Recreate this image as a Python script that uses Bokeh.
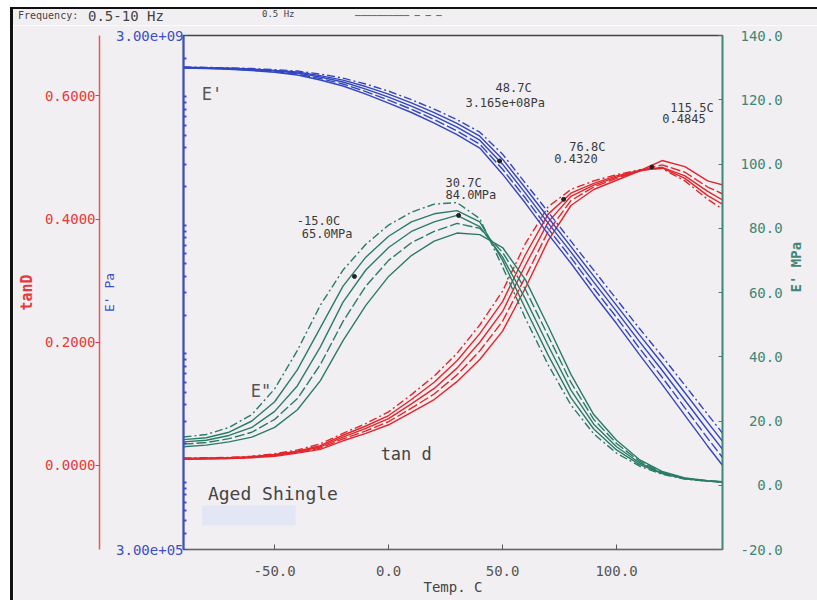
import math
from bokeh.plotting import figure
from bokeh.layouts import column
from bokeh.models import (Range1d, LinearAxis, LinearScale, FixedTicker, CustomJSTickFormatter,
                          Label, BoxAnnotation, Div)
from bokeh.embed import file_html
from bokeh.resources import INLINE

# ---------------- data ----------------
temp_c = [-90, -80, -70, -60, -50, -40, -30, -20, -10, 0, 10, 20, 30, 40,
          50, 60, 70, 80, 90, 100, 110, 120, 130, 140, 147]
freq_hz = [0.5, 1, 2, 5, 10]

# storage modulus E' (MPa), five frequency sweeps
estor_1 = [1707, 1692, 1683, 1660, 1627, 1587, 1503, 1398, 1257, 1107, 950, 803, 664, 531,
           358, 213, 127, 75.3, 44.8, 26.6, 15.8, 9.58, 5.69, 3.38, 2.35]
estor_2 = [1698, 1683, 1672, 1645, 1607, 1559, 1463, 1350, 1202, 1050, 897, 754, 621, 494,
           327, 195, 115, 68.2, 40.2, 23.8, 14.1, 8.45, 4.98, 2.93, 2.03]
estor_3 = [1690, 1675, 1660, 1630, 1587, 1531, 1425, 1303, 1149, 995, 847, 708, 581, 460,
           299, 178, 104, 61.8, 36.1, 21.4, 12.5, 7.45, 4.35, 2.54, 1.76]
estor_4 = [1682, 1667, 1648, 1615, 1567, 1504, 1388, 1258, 1098, 943, 800, 665, 543, 428,
           273, 163, 94.2, 56.0, 32.4, 19.2, 11.1, 6.57, 3.80, 2.20, 1.52]
estor_5 = [1673, 1658, 1637, 1601, 1548, 1477, 1351, 1214, 1050, 894, 755, 624, 508, 399,
           250, 149, 85.3, 50.7, 29.1, 17.2, 9.9, 5.79, 3.32, 1.91, 1.32]

# loss modulus E'' (MPa)
eloss_1 = [15.0, 15.8, 18.0, 22.0, 30.0, 42.0, 56.0, 67.0, 75.0, 81.0, 85.0, 87.5, 88.0, 83.0,
           68.0, 52.0, 37.5, 25.0, 16.0, 10.0, 6.0, 3.4, 1.9, 1.3, 1.0]
eloss_2 = [14.2, 14.8, 16.5, 20.0, 26.0, 36.0, 49.0, 62.0, 71.0, 77.5, 82.0, 84.5, 85.5, 82.0,
           70.0, 55.0, 40.5, 27.3, 17.5, 11.0, 6.5, 3.6, 2.0, 1.3, 1.0]
eloss_3 = [13.5, 14.0, 15.5, 18.0, 23.0, 31.0, 43.0, 57.0, 67.0, 74.0, 79.0, 82.0, 84.0, 80.5,
           71.0, 58.0, 43.5, 29.6, 19.0, 12.0, 7.0, 3.8, 2.1, 1.3, 1.0]
eloss_4 = [12.8, 13.3, 14.5, 16.5, 20.5, 27.0, 37.5, 51.0, 62.0, 70.0, 75.5, 79.0, 81.5, 80.0,
           72.5, 61.0, 46.5, 32.0, 20.5, 13.0, 7.5, 4.0, 2.2, 1.4, 1.0]
eloss_5 = [12.0, 12.5, 13.5, 15.0, 18.0, 23.5, 32.5, 45.0, 56.0, 65.0, 71.5, 76.0, 78.5, 78.0,
           74.0, 64.0, 49.5, 34.5, 22.0, 14.0, 8.0, 4.3, 2.3, 1.4, 1.1]

# tan delta
tand_1 = [0.012, 0.0125, 0.013, 0.015, 0.019, 0.025, 0.035, 0.052, 0.068, 0.087, 0.115, 0.145,
          0.182, 0.228, 0.283, 0.360, 0.420, 0.448, 0.462, 0.472, 0.480, 0.482, 0.462, 0.432, 0.415]
tand_2 = [0.0115, 0.012, 0.0125, 0.014, 0.018, 0.023, 0.032, 0.049, 0.064, 0.081, 0.107, 0.135,
          0.170, 0.214, 0.266, 0.342, 0.408, 0.442, 0.458, 0.470, 0.479, 0.483, 0.466, 0.438, 0.423]
tand_3 = [0.011, 0.0115, 0.012, 0.0135, 0.017, 0.022, 0.030, 0.046, 0.060, 0.076, 0.100, 0.125,
          0.158, 0.200, 0.250, 0.325, 0.395, 0.437, 0.455, 0.468, 0.478, 0.484, 0.470, 0.445, 0.430]
tand_4 = [0.0105, 0.011, 0.0115, 0.013, 0.016, 0.021, 0.028, 0.043, 0.056, 0.071, 0.093, 0.116,
          0.147, 0.186, 0.234, 0.306, 0.380, 0.430, 0.452, 0.466, 0.478, 0.488, 0.476, 0.452, 0.440]
tand_5 = [0.010, 0.0105, 0.011, 0.0125, 0.015, 0.020, 0.026, 0.040, 0.052, 0.066, 0.086, 0.107,
          0.136, 0.172, 0.218, 0.288, 0.365, 0.422, 0.448, 0.463, 0.478, 0.495, 0.485, 0.462, 0.455]

# marked points
estor_mark_t = [48.7]
estor_mark_v = [316.5]          # MPa  (3.165e+08 Pa)
eloss_mark_t = [-15.0, 30.7]
eloss_mark_v = [65.0, 84.0]     # MPa
tand_mark_t = [76.8, 115.5]
tand_mark_v = [0.4320, 0.4845]

x_ticks = [-50, 0, 50, 100]
tan_ticks = [0.0, 0.2, 0.4, 0.6]
mpa_ticks = [-20, 0, 20, 40, 60, 80, 100, 120, 140]
pa_label_ticks = [3e5, 3e9]

# ---------------- styling ----------------
BG = "#f2eff2"
BLUE = "#3a4fc8"
BLUE_LINE = "#3346c2"
RED = "#e4393d"
RED_LINE = "#e2262b"
GREEN = "#3f8676"
GREEN_LINE = "#2a7c68"
INK = "#3a3a3a"
MONO = "DejaVu Sans Mono"
dashes = ["8 3 2 3", "solid", "solid", "10 3", "solid"]
W = 804

# ---------------- header strip (instrument header line) ----------------
def span(left, top, size, text):
    return (f'<span style="position:absolute;left:{left}px;top:{top}px;font-size:{size}px;'
            f'line-height:1;white-space:pre">{text}</span>')

hdr_html = ('<div style="position:relative;width:%dpx;height:16px;background:%s;'
            'font-family:\'DejaVu Sans Mono\',monospace;color:#444444;overflow:hidden">' % (W, BG)
            + span(5, 2, 10, "Frequency:")
            + span(75, 0, 14, f"{freq_hz[0]}-{freq_hz[-1]} Hz")
            + span(249, 1, 9, f"{freq_hz[0]} Hz")
            + span(342, 3, 9, "\u2500\u2500\u2500\u2500\u2500\u2500\u2500\u2500\u2500\u2500 \u2500 \u2500 \u2500")
            + '</div>')
hdr = Div(text=hdr_html, width=W, height=16, margin=(0, 0, 0, 0),
          styles={"background-color": BG})

# ---------------- main plot ----------------
p = figure(width=W, height=575, x_range=Range1d(-90, 146.5), y_range=Range1d(3e5, 3e9),
           y_axis_type="log", output_backend="svg", toolbar_location=None,
           min_border_left=170, min_border_right=95, min_border_top=10, min_border_bottom=51,
           background_fill_color=BG, border_fill_color=BG)
p.extra_y_ranges = {"tan": Range1d(-0.1365, 0.698), "mpa": Range1d(-20, 140)}
p.extra_y_scales = {"tan": LinearScale(), "mpa": LinearScale()}
p.xgrid.visible = False
p.ygrid.visible = False
p.outline_line_color = "#444444"
p.outline_line_width = 1.5

# blue log axis (E' Pa) - inner left
minor_pa = [m * 10 ** e for e in range(5, 10) for m in range(1, 10)
            if 3e5 < m * 10 ** e < 3e9]
ya = p.yaxis[0]
ya.ticker = FixedTicker(ticks=pa_label_ticks, minor_ticks=minor_pa)
ya.formatter = CustomJSTickFormatter(
    code="const s = tick.toExponential(2); return s.replace(/e([+-])(\\d)$/, (m, a, b) => 'e' + a + '0' + b);")
ya.axis_line_color = BLUE
ya.axis_line_width = 2
ya.major_tick_in = 4
ya.major_tick_out = 0
ya.major_tick_line_color = BLUE
ya.minor_tick_in = 3
ya.minor_tick_out = 0
ya.minor_tick_line_color = BLUE
ya.minor_tick_line_width = 2
ya.major_label_standoff = 0
ya.major_label_text_color = BLUE
ya.major_label_text_font = MONO
ya.major_label_text_font_size = "14px"
ya.axis_label = "E' Pa"
ya.axis_label_text_color = BLUE
ya.axis_label_text_font = MONO
ya.axis_label_text_font_size = "13px"
ya.axis_label_text_font_style = "normal"
ya.axis_label_standoff = -4

# red tanD axis - outer left
ra = LinearAxis(y_range_name="tan", ticker=FixedTicker(ticks=tan_ticks),
                formatter=CustomJSTickFormatter(code="return tick.toFixed(4);"))
ra.axis_line_color = "#e85858"
ra.axis_line_width = 1.5
ra.major_tick_in = 0
ra.major_tick_out = 4
ra.major_tick_line_color = RED
ra.major_label_standoff = 0
ra.major_label_text_color = RED
ra.major_label_text_font = MONO
ra.major_label_text_font_size = "14px"
ra.axis_label = "tanD"
ra.axis_label_text_color = RED
ra.axis_label_text_font = MONO
ra.axis_label_text_font_size = "15px"
ra.axis_label_text_font_style = "bold"
ra.axis_label_standoff = 6
p.add_layout(ra, "left")

# green E' MPa axis - right
ga = LinearAxis(y_range_name="mpa", ticker=FixedTicker(ticks=mpa_ticks),
                formatter=CustomJSTickFormatter(
                    code="const s = tick.toFixed(1); return '\\u00a0'.repeat(Math.max(0, 5 - s.length)) + s;"))
ga.axis_line_color = GREEN
ga.axis_line_width = 1.5
ga.major_tick_in = 4
ga.major_tick_out = 0
ga.major_tick_line_color = GREEN
ga.major_label_standoff = 18
ga.major_label_text_color = GREEN
ga.major_label_text_font = MONO
ga.major_label_text_font_size = "14px"
ga.axis_label = "E' MPa"
ga.axis_label_text_color = GREEN
ga.axis_label_text_font = MONO
ga.axis_label_text_font_size = "14px"
ga.axis_label_text_font_style = "bold"
ga.axis_label_standoff = 10
ga.axis_label_orientation = math.pi / 2
p.add_layout(ga, "right")

# x axis
xa = p.xaxis[0]
xa.ticker = FixedTicker(ticks=x_ticks)
xa.formatter = CustomJSTickFormatter(code="return tick.toFixed(1);")
xa.axis_line_color = "#666666"
xa.axis_line_width = 1.2
xa.major_tick_in = 5
xa.major_tick_out = 0
xa.major_tick_line_color = "#555555"
xa.major_label_standoff = 16
xa.major_label_text_color = "#555555"
xa.major_label_text_font = MONO
xa.major_label_text_font_size = "14px"
xa.axis_label = "Temp. C"
xa.axis_label_text_color = "#444444"
xa.axis_label_text_font = MONO
xa.axis_label_text_font_size = "14px"
xa.axis_label_text_font_style = "normal"
xa.axis_label_standoff = 0

# faint scan box behind the sample name
p.add_layout(BoxAnnotation(left=-81.9, right=-40.8, top=-6.3, bottom=-12.5, y_range_name="mpa",
                           fill_color="#e3e6f4", fill_alpha=1.0, line_color=None, level="underlay"))

# ---------------- curves ----------------
for vals, dash in zip([tand_1, tand_2, tand_3, tand_4, tand_5], dashes):
    p.line(temp_c, vals, y_range_name="tan", line_color=RED_LINE, line_width=1.4, line_dash=dash)
for vals, dash in zip([eloss_1, eloss_2, eloss_3, eloss_4, eloss_5], dashes):
    p.line(temp_c, vals, y_range_name="mpa", line_color=GREEN_LINE, line_width=1.4, line_dash=dash)
for vals, dash in zip([estor_1, estor_2, estor_3, estor_4, estor_5], dashes):
    p.line(temp_c, [v * 1e6 for v in vals], line_color=BLUE_LINE, line_width=1.4, line_dash=dash)

p.scatter(estor_mark_t, [v * 1e6 for v in estor_mark_v], size=4, color="#222222")
p.scatter(eloss_mark_t, eloss_mark_v, y_range_name="mpa", size=4, color="#222222")
p.scatter(tand_mark_t, tand_mark_v, y_range_name="tan", size=4, color="#222222")

# ---------------- annotations ----------------
def lab(x, y, text, size="12px", color=INK, baseline="top"):
    p.add_layout(Label(x=x, y=y, y_range_name="mpa", text=text, text_font=MONO,
                       text_font_size=size, text_color=color, text_baseline=baseline,
                       text_align="left"))

lab(-40.3, 84.5, f"{eloss_mark_t[0]:.1f}C")
lab(-38.1, 80.4, f"{eloss_mark_v[0]:.1f}MPa")
lab(25.0, 96.3, f"{eloss_mark_t[1]:.1f}C")
lab(25.0, 92.6, f"{eloss_mark_v[1]:.1f}MPa")
lab(46.9, 125.7, f"{estor_mark_t[0]:.1f}C")
lab(33.7, 121.3, f"{estor_mark_v[0] * 1e6:.3e}Pa")
lab(79.3, 107.6, f"{tand_mark_t[0]:.1f}C")
lab(72.7, 103.2, f"{tand_mark_v[0]:.4f}")
lab(123.6, 119.7, f"{tand_mark_t[1]:.1f}C")
lab(120.1, 115.7, f"{tand_mark_v[1]:.4f}")

lab(-82.0, 125.0, "E'", size="17px", color="#555555")
lab(-60.5, 32.5, 'E"', size="17px", color="#555555")
lab(-3.5, 12.8, "tan d", size="17px", color="#444444")
lab(-79.3, 0.8, "Aged Shingle", size="18px", color="#444444")

layout = column(hdr, p, spacing=0)
layout.stylesheets = [":host { margin: 7px 0 0 10px; border-left: 3px solid #111; border-top: 2px solid #111; }"]

open("out.html", "w").write(file_html(layout, INLINE))
